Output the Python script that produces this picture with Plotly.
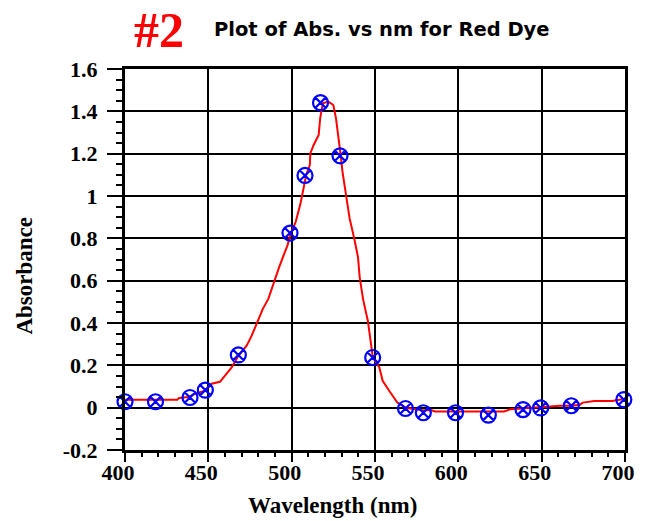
import plotly.graph_objects as go

# Measured points (blue markers)
point_nm = [400, 418.3, 439, 448.2, 468, 499, 508, 517.3, 529, 548.6,
            568.3, 579, 598.3, 618, 638.8, 649.4, 667.8, 699.3]
point_abs = [0.028, 0.028, 0.048, 0.083, 0.249, 0.825, 1.097, 1.441, 1.19, 0.237,
             -0.004, -0.024, -0.024, -0.035, -0.009, -0.001, 0.009, 0.038]

# Fine spectrum (red curve)
curve_nm = [398, 405, 415, 425, 431.3, 432.5, 438, 442.3, 448, 452, 455, 457,
            460, 464, 468, 473, 476, 480, 482.7, 486, 489.6, 492.5, 495.5,
            497.5, 499.4, 502.4, 505.3, 507.3, 508.7, 510.9, 511.2, 513.2,
            516.2, 517.1, 518.7, 522, 525, 526.6, 528, 529.4, 530.5, 532.5,
            534.8, 537.8, 539.8, 540.8, 542.8, 545.7, 547.1, 548.7, 552.6,
            554.6, 558.5, 563.4, 568.3, 578.2, 584, 586, 598, 610, 620, 627.4,
            631.3, 639.2, 649, 653, 661, 666.8, 672.7, 674.7, 681.6, 692.4, 698.3]
curve_abs = [0.037, 0.037, 0.037, 0.037, 0.037, 0.046, 0.05, 0.066, 0.08, 0.113,
             0.12, 0.122, 0.151, 0.19, 0.245, 0.293, 0.34, 0.411, 0.467, 0.514,
             0.601, 0.664, 0.727, 0.767, 0.822, 0.877, 0.964, 1.051, 1.099,
             1.146, 1.201, 1.241, 1.288, 1.367, 1.438, 1.446, 1.43, 1.367,
             1.288, 1.193, 1.114, 1.019, 0.893, 0.79, 0.711, 0.617, 0.514,
             0.411, 0.332, 0.237, 0.19, 0.127, 0.08, 0.024, 0.0, -0.012,
             -0.012, -0.018, -0.018, -0.018, -0.018, -0.018, -0.007, -0.004,
             0.002, 0.004, 0.009, 0.009, 0.013, 0.024, 0.032, 0.032, 0.04]

x_ticks = [400, 450, 500, 550, 600, 650, 700]
x_tick_text = ["400", "450", "500", "550", "600", "650", "700"]
y_ticks = [-0.2, 0, 0.2, 0.4, 0.6, 0.8, 1.0, 1.2, 1.4, 1.6]
y_tick_text = ["-0.2", "0", "0.2", "0.4", "0.6", "0.8", "1", "1.2", "1.4", "1.6"]

serif = "Liberation Serif"
sans = "DejaVu Sans"

fig = go.Figure()
fig.add_trace(go.Scatter(x=curve_nm, y=curve_abs, mode="lines",
                         line=dict(color="#ff0000", width=2), hoverinfo="skip"))
fig.add_trace(go.Scatter(x=point_nm, y=point_abs, mode="markers", cliponaxis=False,
                         marker=dict(symbol="circle-x-open", size=15, color="#0000ff",
                                     line=dict(width=2.2, color="#0000ff"))))

axis_common = dict(showgrid=True, gridcolor="black", gridwidth=2, zeroline=False,
                   showline=True, linecolor="black", linewidth=3, mirror=True,
                   ticks="outside", tickcolor="black", tickwidth=2,
                   tickfont=dict(family=serif, size=22, color="black", weight="bold"))

fig.update_xaxes(range=[400, 700], tickvals=x_ticks, ticktext=x_tick_text,
                 ticklen=9, ticklabelshift=-7, ticklabelstandoff=-8,
                 minor=dict(ticks="outside", ticklen=4, tickwidth=2, tickcolor="black",
                            dtick=10, tick0=400, showgrid=False),
                 **axis_common)
fig.update_yaxes(range=[-0.2, 1.6], tickvals=y_ticks, ticktext=y_tick_text,
                 ticklen=15, ticklabelstandoff=5,
                 minor=dict(ticks="outside", ticklen=6, tickwidth=2, tickcolor="black",
                            dtick=0.05, tick0=0, showgrid=False),
                 **axis_common)

fig.update_layout(
    width=647, height=521,
    margin=dict(l=125, r=14, t=69, b=71),
    paper_bgcolor="white", plot_bgcolor="white",
    showlegend=False,
    annotations=[
        dict(text="#2", xref="paper", yref="paper", x=(160 - 125) / 508, y=1 + (69 - 30) / 381,
             xanchor="center", yanchor="middle", showarrow=False,
             font=dict(family=serif, size=50, color="#ff0000", weight="bold")),
        dict(text="Plot of Abs. vs nm for Red Dye", xref="paper", yref="paper",
             x=(386 - 125) / 508, y=1 + (69 - 30) / 381,
             xanchor="center", yanchor="middle", showarrow=False,
             font=dict(family=sans, size=19.5, color="black", weight="bold")),
        dict(text="Wavelength (nm)", xref="paper", yref="paper",
             x=(336 - 125) / 508, y=-(506 - 450) / 381,
             xanchor="center", yanchor="middle", showarrow=False,
             font=dict(family=serif, size=23, color="black", weight="bold")),
        dict(text="Absorbance", xref="paper", yref="paper", textangle=-90,
             x=-(125 - 22) / 508, y=1 - (276 - 69) / 381,
             xanchor="center", yanchor="middle", showarrow=False,
             font=dict(family=serif, size=23, color="black", weight="bold")),
    ],
)

fig.write_html("out.html")
